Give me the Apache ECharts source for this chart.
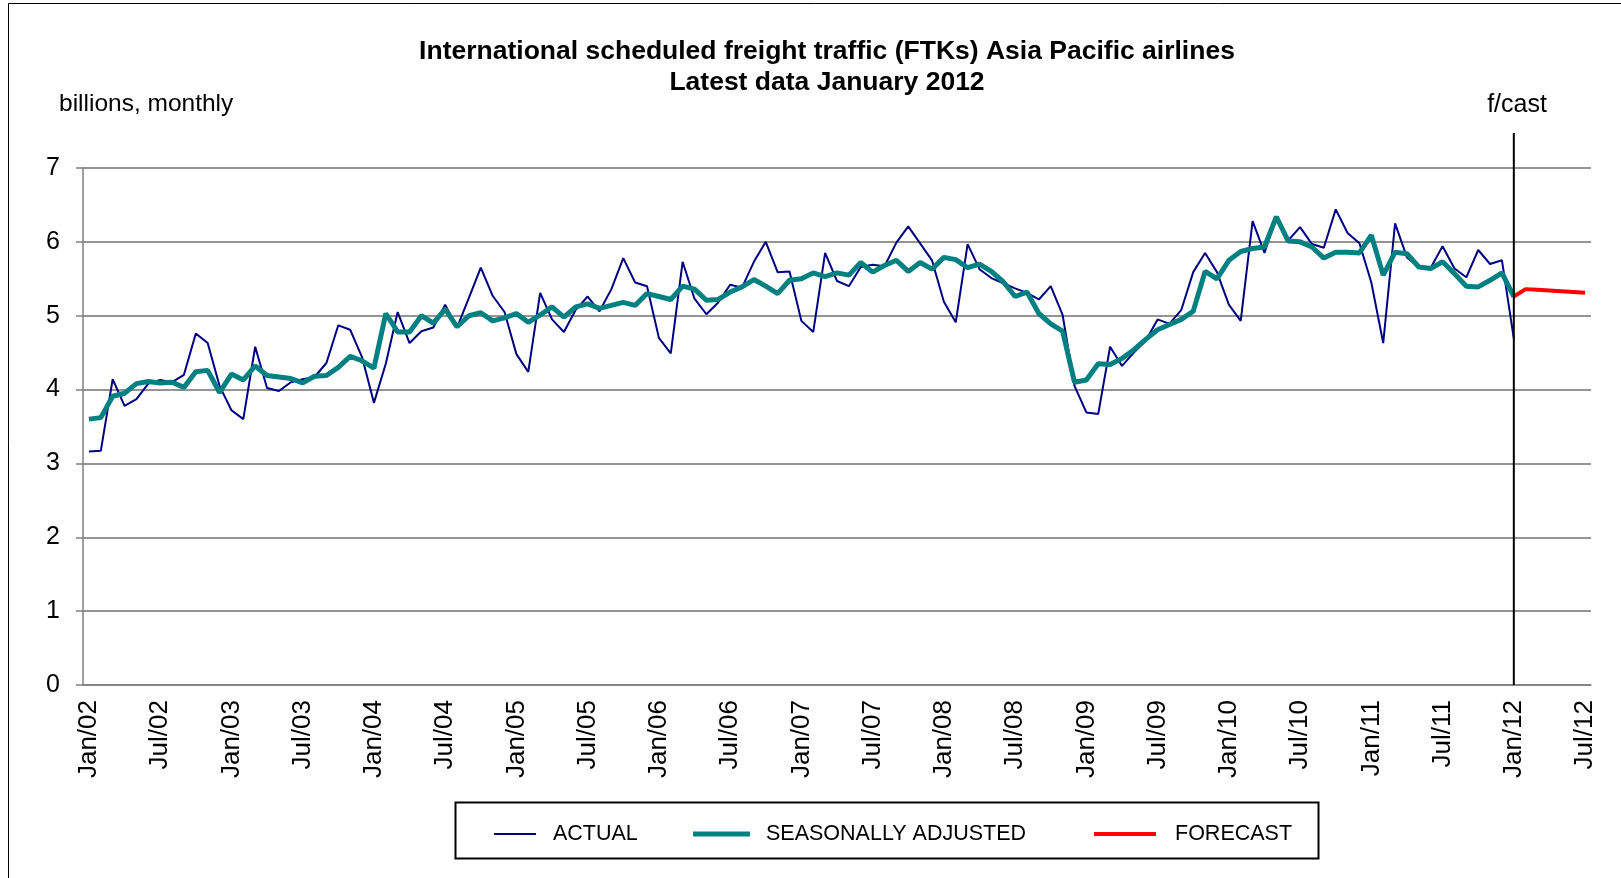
<!DOCTYPE html>
<html>
<head>
<meta charset="utf-8">
<title>FTKs Asia Pacific</title>
<script src="https://cdn.jsdelivr.net/npm/echarts@6/dist/echarts.min.js"></script>
<style>
  html, body { margin: 0; padding: 0; background: #fff; }
  #main { width: 1621px; height: 878px; }
</style>
</head>
<body>
<div id="main"></div>
<script>
const fontFam = '"Liberation Sans", Arial, sans-serif'

// months Jan/02 .. Jul/12
const monthNames = ['Jan', 'Feb', 'Mar', 'Apr', 'May', 'Jun', 'Jul', 'Aug', 'Sep', 'Oct', 'Nov', 'Dec']
const years = ['02', '03', '04', '05', '06', '07', '08', '09', '10', '11', '12']
let categories = []
years.forEach(y => monthNames.forEach(m => categories.push(m + '/' + y)))
categories = categories.slice(0, 127)

const yTicks = [0, 1, 2, 3, 4, 5, 6, 7]

// actual, Jan/02 .. Jan/12
const actual = [
  3.16, 3.17, 4.14, 3.78, 3.87, 4.08, 4.13, 4.10, 4.20, 4.76, 4.63, 4.05,
  3.72, 3.60, 4.58, 4.02, 3.98, 4.10, 4.14, 4.17, 4.36, 4.87, 4.81, 4.44,
  3.82, 4.35, 5.05, 4.63, 4.79, 4.84, 5.15, 4.84, 5.24, 5.65, 5.27, 5.05,
  4.48, 4.24, 5.31, 4.95, 4.78, 5.08, 5.26, 5.06, 5.36, 5.78, 5.45, 5.40,
  4.70, 4.49, 5.73, 5.23, 5.02, 5.18, 5.42, 5.38, 5.73, 6.00, 5.59, 5.60,
  4.93, 4.78, 5.85, 5.47, 5.40, 5.66, 5.69, 5.67, 5.99, 6.21, 5.98, 5.75,
  5.19, 4.91, 5.97, 5.63, 5.51, 5.44, 5.37, 5.31, 5.22, 5.40, 5.01, 4.05,
  3.69, 3.67, 4.58, 4.32, 4.50, 4.66, 4.95, 4.89, 5.08, 5.59, 5.85, 5.59,
  5.15, 4.93, 6.28, 5.85, 6.34, 6.02, 6.20, 5.97, 5.92, 6.44, 6.12, 5.98,
  5.45, 4.63, 6.25, 5.79, 5.66, 5.65, 5.94, 5.64, 5.52, 5.89, 5.70, 5.75,
  4.69
]

// seasonally adjusted, Jan/02 .. Jan/12
const seasAdj = [
  3.60, 3.62, 3.91, 3.95, 4.08, 4.11, 4.09, 4.10, 4.03, 4.24, 4.26, 3.96,
  4.21, 4.13, 4.32, 4.19, 4.17, 4.15, 4.09, 4.18, 4.19, 4.30, 4.45, 4.39,
  4.29, 5.03, 4.78, 4.78, 5.00, 4.90, 5.09, 4.85, 5.00, 5.04, 4.93, 4.97,
  5.03, 4.91, 5.01, 5.12, 4.98, 5.12, 5.16, 5.10, 5.14, 5.18, 5.14, 5.30,
  5.26, 5.22, 5.40, 5.36, 5.21, 5.22, 5.32, 5.39, 5.49, 5.40, 5.30, 5.48,
  5.50, 5.58, 5.53, 5.58, 5.55, 5.72, 5.59, 5.68, 5.75, 5.60, 5.72, 5.63,
  5.79, 5.76, 5.65, 5.70, 5.60, 5.46, 5.26, 5.32, 5.03, 4.89, 4.79, 4.10,
  4.13, 4.35, 4.34, 4.42, 4.54, 4.68, 4.81, 4.88, 4.95, 5.06, 5.60, 5.50,
  5.75, 5.87, 5.91, 5.93, 6.34, 6.01, 6.00, 5.93, 5.78, 5.86, 5.86, 5.85,
  6.09, 5.55, 5.86, 5.84, 5.66, 5.64, 5.73, 5.57, 5.40, 5.39, 5.48, 5.58,
  5.26
]

// forecast, Jan/12 .. Jul/12
const forecast = [5.26, 5.36, 5.35, 5.34, 5.33, 5.32, 5.31]
const forecastStart = 'Jan/12'

const startIdx = categories.indexOf(forecastStart)
const pad = (arr, before) => {
  const out = []
  for (let i = 0; i < categories.length; i++) {
    const j = i - before
    out.push(j >= 0 && j < arr.length ? arr[j] : null)
  }
  return out
}

const myChart = echarts.init(document.getElementById('main'))

// legend entry: plain line sample, no marker
function legendItem(name, left, w, h, gap) {
  return {
    left: left, top: 823, padding: 0,
    icon: 'rect', itemWidth: w, itemHeight: h,
    textStyle: { color: '#000', fontSize: 21.5, fontFamily: fontFam, padding: [0, 0, 0, gap] },
    data: [name]
  }
}

let option = {
  animation: false,
  backgroundColor: '#fff',
  grid: { left: 83, right: 30, top: 168, bottom: 193 },
  legend: [
    legendItem('ACTUAL', 494, 42, 2, 12),
    legendItem('SEASONALLY ADJUSTED', 693, 57, 5, 11),
    legendItem('FORECAST', 1094, 62, 4, 14)
  ],
  xAxis: {
    type: 'category',
    data: categories,
    boundaryGap: true,
    axisLine: { lineStyle: { color: '#808080', width: 1.5 } },
    axisTick: { interval: 5, length: 7, lineStyle: { color: '#808080', width: 1.5 } },
    axisLabel: { interval: 5, rotate: 90, margin: 15, color: '#000', fontSize: 26, fontFamily: fontFam },
    splitLine: { show: false }
  },
  yAxis: {
    type: 'value',
    min: yTicks[0],
    max: yTicks[yTicks.length - 1],
    interval: 1,
    axisLine: { show: true, lineStyle: { color: '#808080', width: 1.5 } },
    axisTick: { show: true, length: 7, lineStyle: { color: '#808080', width: 1.5 } },
    axisLabel: { margin: 23, color: '#000', fontSize: 25, fontFamily: fontFam },
    splitLine: { lineStyle: { color: '#707070', width: 1.5 } }
  },
  series: [
    {
      name: 'ACTUAL', type: 'line', data: pad(actual, 0),
      symbol: 'none', showSymbol: false, color: '#000080',
      lineStyle: { color: '#000080', width: 2 }
    },
    {
      name: 'SEASONALLY ADJUSTED', type: 'line', data: pad(seasAdj, 0),
      symbol: 'none', showSymbol: false, color: '#008080',
      lineStyle: { color: '#008080', width: 5 }
    },
    {
      name: 'FORECAST', type: 'line', data: pad(forecast, startIdx),
      symbol: 'none', showSymbol: false, color: '#ff0000',
      lineStyle: { color: '#ff0000', width: 4 }
    }
  ],
  graphic: [
    // outer frame (only top and left edges visible)
    { type: 'rect', shape: { x: 8.5, y: 3.5, width: 1800, height: 1000 }, style: { fill: 'none', stroke: '#000', lineWidth: 1 }, silent: true },
    // legend box
    { type: 'rect', shape: { x: 455.5, y: 802.5, width: 863, height: 56 }, style: { fill: 'none', stroke: '#000', lineWidth: 2 }, silent: true },
    { type: 'text', x: 827, y: 52, style: { text: 'International scheduled freight traffic (FTKs) Asia Pacific airlines', fill: '#000', font: 'bold 26.5px ' + fontFam, align: 'center', verticalAlign: 'middle' } },
    { type: 'text', x: 827, y: 83, style: { text: 'Latest data January 2012', fill: '#000', font: 'bold 26.5px ' + fontFam, align: 'center', verticalAlign: 'middle' } },
    { type: 'text', x: 59, y: 104, style: { text: 'billions, monthly', fill: '#000', font: '24.5px ' + fontFam, align: 'left', verticalAlign: 'middle' } },
    { type: 'text', x: 1517, y: 105, style: { text: 'f/cast', fill: '#000', font: '25px ' + fontFam, align: 'center', verticalAlign: 'middle' } }
  ]
}

myChart.setOption(option)

// forecast divider at the Jan/12 category, from above the plot down to the axis
const fx = myChart.convertToPixel({ xAxisIndex: 0 }, forecastStart)
const yTop = myChart.convertToPixel({ yAxisIndex: 0 }, yTicks[yTicks.length - 1]) - 35
const yBottom = myChart.convertToPixel({ yAxisIndex: 0 }, yTicks[0])
option.graphic.push({
  type: 'line', z: 10, silent: true,
  shape: { x1: fx, y1: yTop, x2: fx, y2: yBottom },
  style: { stroke: '#000', lineWidth: 2 }
})
myChart.setOption({ graphic: option.graphic })
</script>
</body>
</html>
